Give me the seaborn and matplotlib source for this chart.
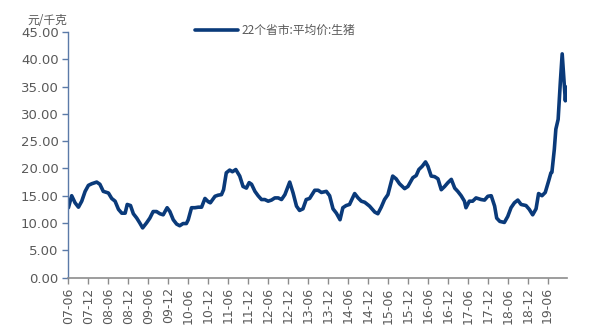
import matplotlib
matplotlib.use("Agg")
import matplotlib.pyplot as plt
import matplotlib.dates as mdates
import pandas as pd
import seaborn as sns

dates = [
    "2007-06-01", "2007-07-01", "2007-08-01", "2007-09-01", "2007-10-01", "2007-11-01",
    "2007-12-01", "2008-01-01", "2008-02-15", "2008-03-15", "2008-04-15", "2008-06-01",
    "2008-07-01", "2008-08-01", "2008-09-01", "2008-10-01", "2008-11-01", "2008-11-20",
    "2008-12-20", "2009-01-15", "2009-02-15", "2009-03-15", "2009-04-10", "2009-05-15",
    "2009-06-15", "2009-07-15", "2009-08-15", "2009-09-15", "2009-10-15", "2009-11-20",
    "2009-12-15", "2010-01-15", "2010-02-15", "2010-03-15", "2010-04-15", "2010-05-15",
    "2010-06-01", "2010-07-01", "2010-08-01", "2010-09-01", "2010-10-01", "2010-11-01",
    "2010-12-01", "2010-12-20", "2011-02-01", "2011-03-01", "2011-04-01", "2011-04-20",
    "2011-05-15", "2011-06-15", "2011-07-10", "2011-08-10", "2011-09-15", "2011-10-15",
    "2011-11-15", "2011-12-10", "2012-01-01", "2012-02-01", "2012-03-01", "2012-04-01",
    "2012-05-01", "2012-06-01", "2012-07-01", "2012-08-01", "2012-09-01", "2012-10-01",
    "2012-11-01", "2012-12-15", "2013-01-15", "2013-02-15", "2013-03-15", "2013-04-15",
    "2013-05-15", "2013-06-15", "2013-08-01", "2013-09-01", "2013-10-01", "2013-11-15",
    "2013-12-15", "2014-01-15", "2014-02-15", "2014-03-20", "2014-04-15", "2014-05-15",
    "2014-06-15", "2014-08-01", "2014-09-01", "2014-10-01", "2014-11-01", "2014-12-15",
    "2015-02-01", "2015-03-01", "2015-04-01", "2015-05-01", "2015-06-01", "2015-07-15",
    "2015-08-15", "2015-09-15", "2015-11-01", "2015-12-01", "2016-01-15", "2016-02-15",
    "2016-03-10", "2016-04-10", "2016-05-10", "2016-06-01", "2016-07-01", "2016-08-01",
    "2016-09-01", "2016-10-01", "2016-11-01", "2016-12-01", "2017-01-01", "2017-02-01",
    "2017-03-01", "2017-04-01", "2017-05-01", "2017-05-15", "2017-06-15", "2017-07-15",
    "2017-08-15", "2017-10-01", "2017-11-01", "2017-12-01", "2018-01-01", "2018-02-01",
    "2018-02-20", "2018-03-20", "2018-05-01", "2018-06-01", "2018-07-01", "2018-08-01",
    "2018-09-01", "2018-10-01", "2018-11-15", "2018-12-15", "2019-01-15", "2019-02-15",
    "2019-03-10", "2019-04-10", "2019-05-10", "2019-06-10", "2019-07-01", "2019-07-10",
    "2019-08-01", "2019-08-15", "2019-09-05", "2019-09-25", "2019-10-12", "2019-11-01",
    "2019-11-10", "2019-11-20",
]
prices = [
    12.8, 15.0, 13.7, 12.9, 14.0, 15.8,
    16.9, 17.2, 17.5, 17.1, 15.8, 15.5,
    14.5, 14.0, 12.5, 11.8, 11.8, 13.4,
    13.2, 11.7, 10.9, 10.0, 9.1, 10.0,
    10.9, 12.1, 12.1, 11.7, 11.5, 12.8,
    12.1, 10.6, 9.8, 9.5, 9.9, 9.9,
    10.6, 12.8, 12.8, 12.9, 12.9, 14.5,
    13.9, 13.7, 14.9, 15.1, 15.2, 16.1,
    19.2, 19.7, 19.4, 19.8, 18.6, 16.7,
    16.4, 17.4, 17.1, 15.8, 15.0, 14.3,
    14.3, 14.0, 14.2, 14.6, 14.6, 14.3,
    15.2, 17.5, 15.5, 13.1, 12.3, 12.6,
    14.3, 14.5, 16.0, 16.0, 15.6, 15.8,
    15.0, 12.6, 11.8, 10.6, 12.8, 13.2,
    13.4, 15.4, 14.6, 14.0, 13.8, 13.1,
    12.0, 11.7, 12.9, 14.3, 15.2, 18.6,
    18.1, 17.2, 16.3, 16.7, 18.3, 18.7,
    19.8, 20.4, 21.2, 20.4, 18.6, 18.5,
    18.1, 16.1, 16.7, 17.4, 18.0, 16.4,
    15.8, 15.0, 14.0, 12.8, 14.0, 14.0,
    14.6, 14.3, 14.2, 14.9, 15.0, 13.1,
    10.9, 10.3, 10.1, 11.2, 12.8, 13.7,
    14.2, 13.4, 13.2, 12.5, 11.5, 12.6,
    15.4, 15.0, 15.6, 17.7, 19.2, 19.3,
    23.5, 27.2, 29.0, 35.8, 41.0, 35.1,
    32.4, 34.9,
]
series_name = "22个省市:平均价:生猪"
unit_label = "元/千克"
y_ticks = [0, 5, 10, 15, 20, 25, 30, 35, 40, 45]

df = pd.DataFrame({"date": pd.to_datetime(dates), "price": prices, "series": series_name})

sns.set_theme(style="white")
plt.rcParams["font.family"] = ["Noto Sans CJK SC", "DejaVu Sans"]

text_grey = "#595959"
line_blue = "#0a3a7a"

fig = plt.figure(figsize=(6.0, 3.34), dpi=100)
ax = fig.add_axes([0.114, 0.169, 0.831, 0.735])

sns.lineplot(data=df, x="date", y="price", hue="series", palette=[line_blue],
             linewidth=2.6, ax=ax)

ax.set_ylim(0, 45)
ax.set_yticks(y_ticks)
ax.yaxis.set_major_formatter(matplotlib.ticker.FormatStrFormatter("%.2f"))
ax.set_xlim(pd.Timestamp("2007-06-01"), pd.Timestamp("2019-11-25"))
ax.xaxis.set_major_locator(mdates.MonthLocator(bymonth=[6, 12]))
ax.xaxis.set_major_formatter(mdates.DateFormatter("%y-%m"))

for side in ["top", "right"]:
    ax.spines[side].set_visible(False)
ax.spines["left"].set_color("#5b7aa8")
ax.spines["left"].set_linewidth(1.0)
ax.spines["bottom"].set_color("#8c8c8c")
ax.spines["bottom"].set_linewidth(1.2)

ax.tick_params(axis="y", which="major", left=True, length=4, width=1,
               color="#5b7aa8", labelsize=9.5, labelcolor=text_grey, pad=3)
ax.tick_params(axis="x", which="major", bottom=True, length=4, width=1,
               color="#8c8c8c", labelsize=9, labelcolor=text_grey, pad=3,
               labelrotation=90)
for lbl in ax.get_yticklabels():
    lbl.set_family(["DejaVu Sans"])
for lbl in ax.get_xticklabels():
    lbl.set_family(["DejaVu Sans"])

ax.set_xlabel("")
ax.set_ylabel("")

leg = ax.legend(loc="upper center", bbox_to_anchor=(0.415, 1.075), frameon=False,
                fontsize=8.5, handlelength=3.6, handletextpad=0.3)
for t in leg.get_texts():
    t.set_color(text_grey)
for h in leg.get_lines():
    h.set_linewidth(2.6)

fig.text(0.045, 0.918, unit_label, fontsize=8.5, color=text_grey, style="italic",
         va="bottom", ha="left")

fig.savefig("out.png", dpi=100, facecolor="white")
